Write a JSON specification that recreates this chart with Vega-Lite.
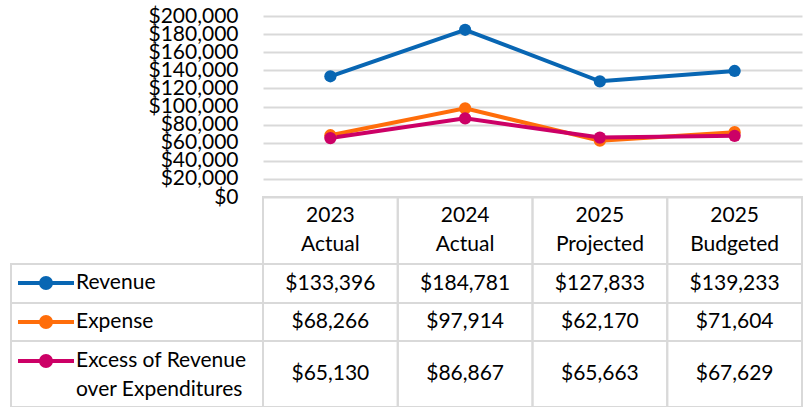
{
  "$schema": "https://vega.github.io/schema/vega-lite/v6.json",
  "padding": {"left": 10, "top": 5, "right": 0, "bottom": 0},
  "config": {
    "font": "Lato",
    "view": {"stroke": null},
    "text": {"font": "Lato", "fontSize": 21, "color": "#000000"}
  },
  "datasets": {
    "d": [
      {"cat": "2023 Actual", "series": "Revenue", "value": 133396},
      {"cat": "2024 Actual", "series": "Revenue", "value": 184781},
      {"cat": "2025 Projected", "series": "Revenue", "value": 127833},
      {"cat": "2025 Budgeted", "series": "Revenue", "value": 139233},
      {"cat": "2023 Actual", "series": "Expense", "value": 68266},
      {"cat": "2024 Actual", "series": "Expense", "value": 97914},
      {"cat": "2025 Projected", "series": "Expense", "value": 62170},
      {"cat": "2025 Budgeted", "series": "Expense", "value": 71604},
      {"cat": "2023 Actual", "series": "Excess of Revenue over Expenditures", "value": 65130},
      {"cat": "2024 Actual", "series": "Excess of Revenue over Expenditures", "value": 86867},
      {"cat": "2025 Projected", "series": "Excess of Revenue over Expenditures", "value": 65663},
      {"cat": "2025 Budgeted", "series": "Excess of Revenue over Expenditures", "value": 67629}
    ]
  },
  "columns": 2,
  "spacing": 0,
  "bounds": "flush",
  "align": "each",
  "concat": [
    {
      "width": 252, "height": 181,
      "data": {"values": []},
      "mark": "text",
      "encoding": {}
    },
    {
      "width": 539, "height": 181,
      "data": {"name": "d"},
      "encoding": {
        "x": {"field": "cat", "type": "nominal", "sort": null, "axis": null},
        "y": {
          "field": "value", "type": "quantitative",
          "scale": {"domain": [0, 200000], "nice": false},
          "axis": {
            "values": [0, 20000, 40000, 60000, 80000, 100000, 120000, 140000, 160000, 180000, 200000],
            "format": "$,.0f", "grid": true, "gridColor": "#d9d9d9", "gridWidth": 2,
            "domain": false, "ticks": false, "labelPadding": 25, "labelFontSize": 21,
            "labelFont": "Lato", "labelColor": "#000000", "title": null,
            "labelOverlap": false, "labelFlush": false, "labelBound": false
          }
        },
        "color": {
          "field": "series", "type": "nominal", "sort": null,
          "scale": {
            "domain": ["Revenue", "Expense", "Excess of Revenue over Expenditures"],
            "range": ["#0866B3", "#FF6D0A", "#CC0066"]
          },
          "legend": {
            "orient": "none", "legendX": 9, "legendY": 241, "title": null,
            "padding": 0, "symbolOffset": 0,
            "symbolType": "M-1.1667,0H1.1667M-0.2083,0A0.2083,0.2083,0,1,1,0.2083,0A0.2083,0.2083,0,1,1,-0.2083,0Z",
            "symbolSize": 2304, "symbolStrokeWidth": 4,
            "labelFontSize": 21, "labelFont": "Lato", "labelColor": "#000000",
            "labelLimit": 400, "labelOffset": 4, "rowPadding": 0,
            "labelExpr": "datum.label == 'Excess of Revenue over Expenditures' ? ['Excess of Revenue', 'over Expenditures'] : datum.label",
            "encode": {
              "symbols": {"update": {"fill": {"scale": "color", "field": "value"}, "stroke": {"scale": "color", "field": "value"}, "opacity": {"value": 1}}},
              "labels": {"update": {"lineHeight": {"value": 29}}}
            }
          }
        }
      },
      "layer": [
        {"mark": {"type": "line", "strokeWidth": 4}},
        {"mark": {"type": "point", "filled": true, "size": 150, "opacity": 1}}
      ]
    },
    {
      "width": 252, "height": 67,
      "data": {"values": []},
      "mark": "text",
      "encoding": {}
    },
    {
      "width": 539, "height": 67,
      "data": {"name": "d"},
      "transform": [{"filter": "datum.series === 'Revenue'"}],
      "encoding": {
        "x": {"field": "cat", "type": "nominal", "sort": null, "axis": null, "scale": {"paddingInner": 0, "paddingOuter": 0}}
      },
      "layer": [
        {"mark": {"type": "rect", "fill": "transparent", "stroke": "#d9d9d9", "strokeWidth": 2}},
        {"mark": {"type": "text", "lineBreak": " ", "lineHeight": 29, "dy": -14.5, "fontSize": 21, "font": "Lato", "color": "#000000"}, "encoding": {"text": {"field": "cat"}}}
      ]
    },
    {
      "width": 252, "height": 39,
      "view": {"stroke": "#d9d9d9", "strokeWidth": 2},
      "data": {"values": []},
      "mark": "text",
      "encoding": {}
    },
    {
      "width": 539, "height": 39,
      "data": {"name": "d"},
      "transform": [{"filter": "datum.series === 'Revenue'"}],
      "encoding": {
        "x": {"field": "cat", "type": "nominal", "sort": null, "axis": null, "scale": {"paddingInner": 0, "paddingOuter": 0}}
      },
      "layer": [
        {"mark": {"type": "rect", "fill": "transparent", "stroke": "#d9d9d9", "strokeWidth": 2}},
        {"mark": {"type": "text", "fontSize": 21, "font": "Lato", "color": "#000000"}, "encoding": {"text": {"field": "value", "type": "quantitative", "format": "$,.0f"}}}
      ]
    },
    {
      "width": 252, "height": 38,
      "view": {"stroke": "#d9d9d9", "strokeWidth": 2},
      "data": {"values": []},
      "mark": "text",
      "encoding": {}
    },
    {
      "width": 539, "height": 38,
      "data": {"name": "d"},
      "transform": [{"filter": "datum.series === 'Expense'"}],
      "encoding": {
        "x": {"field": "cat", "type": "nominal", "sort": null, "axis": null, "scale": {"paddingInner": 0, "paddingOuter": 0}}
      },
      "layer": [
        {"mark": {"type": "rect", "fill": "transparent", "stroke": "#d9d9d9", "strokeWidth": 2}},
        {"mark": {"type": "text", "fontSize": 21, "font": "Lato", "color": "#000000"}, "encoding": {"text": {"field": "value", "type": "quantitative", "format": "$,.0f"}}}
      ]
    },
    {
      "width": 252, "height": 66,
      "view": {"stroke": "#d9d9d9", "strokeWidth": 2},
      "data": {"values": []},
      "mark": "text",
      "encoding": {}
    },
    {
      "width": 539, "height": 66,
      "data": {"name": "d"},
      "transform": [{"filter": "datum.series === 'Excess of Revenue over Expenditures'"}],
      "encoding": {
        "x": {"field": "cat", "type": "nominal", "sort": null, "axis": null, "scale": {"paddingInner": 0, "paddingOuter": 0}}
      },
      "layer": [
        {"mark": {"type": "rect", "fill": "transparent", "stroke": "#d9d9d9", "strokeWidth": 2}},
        {"mark": {"type": "text", "fontSize": 21, "font": "Lato", "color": "#000000"}, "encoding": {"text": {"field": "value", "type": "quantitative", "format": "$,.0f"}}}
      ]
    }
  ]
}
